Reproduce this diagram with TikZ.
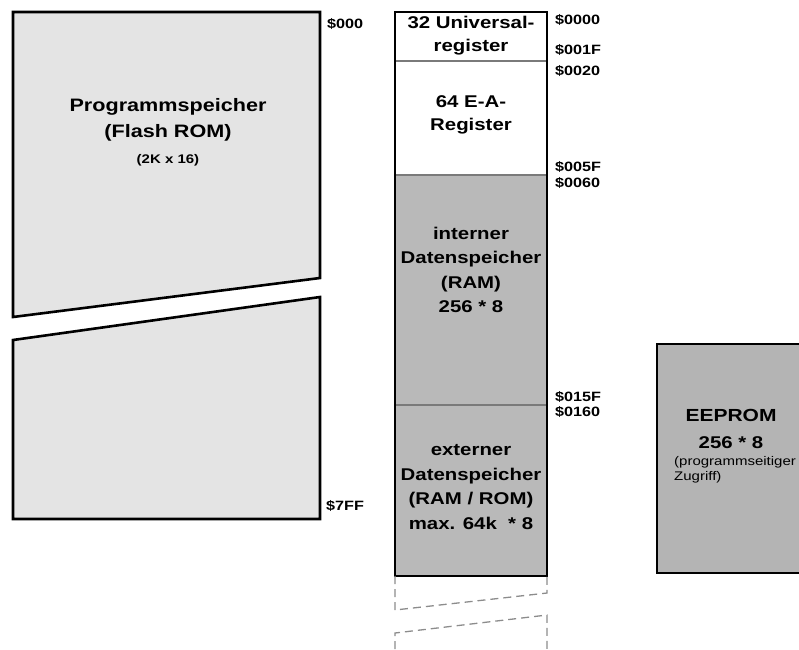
\documentclass[tikz,border=0pt]{standalone}
\usepackage{fontspec}
\setmainfont{Liberation Sans}[FakeStretch=1.2]
\definecolor{flashgray}{HTML}{E4E4E4}
\definecolor{ramgray}{HTML}{B9B9B9}
\definecolor{eegray}{HTML}{B4B4B4}
\definecolor{divgray}{HTML}{7A7A7A}
\definecolor{ghostgray}{HTML}{8C8C8C}
\begin{document}
\begin{tikzpicture}[x=1pt,y=-1pt,
  mem/.style={line width=2.6pt, line join=miter, draw=black},
  divider/.style={line width=1.4pt, draw=divgray},
  ghost/.style={line width=1.3pt, draw=ghostgray, dash pattern=on 8pt off 5pt},
  lbl/.style={inner sep=0pt, align=center, font=\bfseries\fontsize{17}{24.5}\selectfont},
  small/.style={inner sep=0pt, align=center, font=\bfseries\fontsize{12.5}{15}\selectfont},
  addr/.style={inner sep=0pt, anchor=west, font=\bfseries\fontsize{13.5}{14}\selectfont},
]
\useasboundingbox (0,0) rectangle (799,649);
\clip (0,0) rectangle (799,649);

% Programmspeicher (two broken parts)
\draw[mem, fill=flashgray] (13,12) coordinate (fa1) -- (320,12) coordinate (fa2)
  -- (320,278) coordinate (fa3) -- (13,317) coordinate (fa4) -- cycle;
\draw[mem, fill=flashgray] (13,340) coordinate (fb1) -- (320,297) coordinate (fb2)
  -- (320,519) coordinate (fb3) -- (13,519) coordinate (fb4) -- cycle;

% Datenspeicher column
\coordinate (ctl) at (395,12);
\coordinate (cbr) at (547,576);
\fill[white] (395,12) rectangle (547,175);
\fill[ramgray] (395,175) rectangle (547,576);
\draw[divider] (395,61) coordinate (d1l) -- (547,61) coordinate (d1r);
\draw[divider] (395,175) coordinate (d2l) -- (547,175) coordinate (d2r);
\draw[divider] (395,405) coordinate (d3l) -- (547,405) coordinate (d3r);
\draw[mem] (ctl) rectangle (cbr);

% dashed continuation
\coordinate (gl1) at (395,576);
\coordinate (gr1) at (547,576);
\draw[ghost] (gl1) -- (395,610) -- (547,593) -- (gr1);
\draw[ghost] (395,649) -- (395,633) -- (547,615) -- (547,649);

% EEPROM
\draw[mem, fill=eegray] (657,344) coordinate (ee1) rectangle (830,573) coordinate (ee2);

% texts
\node[lbl, font=\bfseries\fontsize{18}{26}\selectfont] (prog) at (168,120) {Programmspeicher\\(Flash ROM)};
\node[small] (progsz) at (168,160) {(2K x 16)};

\node[lbl, font=\bfseries\fontsize{17}{23}\selectfont] (ureg) at (471,36) {32 Universal-\\register};
\node[lbl, font=\bfseries\fontsize{17}{23}\selectfont] (ioreg) at (471,115) {64 E-A-\\Register};
\node[lbl] (iram) at (471,270) {interner\\Datenspeicher\\(RAM)\\256 * 8};
\node[lbl] (xram) at (471,487) {externer\\Datenspeicher\\(RAM / ROM)\\max. 64k\ \ * 8};

\node[lbl, font=\bfseries\fontsize{17.5}{20}\selectfont] (ee) at (731,415) {EEPROM};
\node[lbl] (eesz) at (731,443) {256 * 8};
\node[inner sep=0pt, anchor=west, align=left, font=\fontsize{12.5}{15.5}\selectfont] (eenote) at (674,470) {(programmseitiger\\Zugriff)};

% addresses
\node[addr] (a000) at (327,24) {\$000};
\node[addr] (a7ff) at (326,506) {\$7FF};
\node[addr] (b0000) at (555,20) {\$0000};
\node[addr] (b001f) at (555,50) {\$001F};
\node[addr] (b0020) at (555,71) {\$0020};
\node[addr] (b005f) at (555,167) {\$005F};
\node[addr] (b0060) at (555,183) {\$0060};
\node[addr] (b015f) at (555,397) {\$015F};
\node[addr] (b0160) at (555,412) {\$0160};
\end{tikzpicture}
\end{document}
